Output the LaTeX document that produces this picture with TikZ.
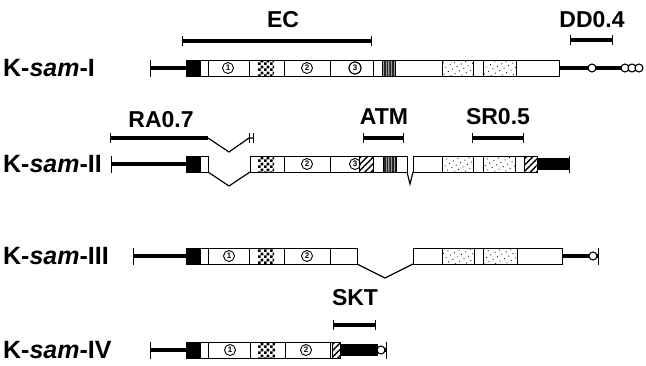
\documentclass[tikz,border=0pt]{standalone}
\usepackage{fontspec}
\setmainfont{Liberation Sans}
\usetikzlibrary{arrows.meta, patterns, patterns.meta}

\tikzdeclarepattern{
  name=checker,
  type=uncolored,
  bounding box={(0pt,0pt) and (6pt,6pt)},
  tile size={(6pt,6pt)},
  code={\fill (0pt,0pt) rectangle (3pt,3pt); \fill (3pt,3pt) rectangle (6pt,6pt);}
}

\begin{document}
\begin{tikzpicture}[
    x=1pt, y=-1pt,
    genename/.style={anchor=west, font=\bfseries\fontsize{25}{27}\selectfont, inner sep=0pt},
    tag/.style={font=\bfseries\fontsize{23}{25}\selectfont, inner sep=0pt},
    box/.style={draw, line width=1pt, fill=white},
    divider/.style={line width=1pt},
    gene/.style={line width=3.4pt},
    splice/.style={line width=1.2pt},
    lt/.style={{Bar[width=17pt,line width=1.3pt]}-},
    rt/.style={-{Bar[width=17pt,line width=1.3pt]}},
    sbar/.style={line width=3.2pt, {Bar[width=10pt,line width=1.2pt]}-{Bar[width=10pt,line width=1.2pt]}},
    lbar/.style={line width=3.2pt, {Bar[width=10pt,line width=1.2pt]}-},
    num/.style={circle, draw, line width=0.9pt, inner sep=0pt, minimum size=11pt, font=\bfseries\fontsize{8}{8}\selectfont},
    knob/.style={circle, draw, line width=1.1pt, fill=white, inner sep=0pt, minimum size=8pt},
    hatch/.style={pattern={Lines[angle=45,distance=4.5pt,line width=1.4pt]}},
    greybox/.style={preaction={fill=black!40}, pattern={Lines[angle=90,distance=1.6pt,line width=0.6pt]}, pattern color=black!85},
    speckled/.style={pattern={Dots[angle=30,distance=5pt,radius=0.6pt]}}
  ]
  \useasboundingbox (0,0) rectangle (646,365);

  % K-sam-I
  \node[tag] (ec) at (283,20) {EC};
  \draw[sbar] (182,41) -- (372,41);
  \node[tag] (dd) at (592,20) {DD0.4};
  \draw[sbar] (570,40) -- (613,40);
  \node[genename] (lblI) at (3,68) {K-\textit{sam}-I};
  \draw[gene, lt] (150,68) -- (187,68);
  \draw[box] (186,60) rectangle (559,76);
  \fill (186,60) rectangle (201,76);
  \foreach \d in {208,249,284,330,373}
    \draw[divider] (\d,60) -- (\d,76);
  \fill[pattern=checker] (258,60) rectangle (274,76);
  \draw[divider, greybox] (382,60) rectangle (395,76);
  \draw[divider, speckled] (442,60) rectangle (473,76) (483,60) rectangle (516,76);
  \node[num] (oneI) at (228,68) {1};
  \node[num] (twoI) at (307,68) {2};
  \node[num, minimum size=12pt, line width=1.2pt] (threeI) at (355,68) {3};
  \draw[gene] (559,68) -- (622,68);
  \node[knob] (kI) at (592,68) {};
  \foreach \c in {625,632,639}
    \node[knob] at (\c,68) {};

  % K-sam-II
  \node[tag] (ra) at (161,120) {RA0.7};
  \draw[lbar] (110,138) -- (208,138);
  \draw[splice] (208,138) -- (229,152) -- (249,138) -- (253,138);
  \draw[divider] (249,133) -- (249,143) (253,133) -- (253,143);
  \node[tag] (atm) at (384,117) {ATM};
  \draw[sbar] (363,138) -- (404,138);
  \node[tag] (sr) at (498,117) {SR0.5};
  \draw[sbar] (472,138) -- (524,138);
  \node[genename] (lblII) at (3,164) {K-\textit{sam}-II};
  \draw[gene, lt] (111,164) -- (187,164);
  \draw[box] (186,156) rectangle (208,172);
  \fill (186,156) rectangle (201,172);
  \draw[splice] (208,172) -- (229,186) -- (250,172);
  \draw[box] (250,156) rectangle (407,172);
  \fill[pattern=checker] (258,156) rectangle (274,172);
  \foreach \d in {284,330}
    \draw[divider] (\d,156) -- (\d,172);
  \node[num] (twoII) at (307,164) {2};
  \node[num] (threeII) at (355,164) {3};
  \draw[divider, hatch] (359,156) rectangle (373,172);
  \draw[divider, greybox] (383,156) rectangle (396,172);
  \draw[splice] (407,172) -- (410,184) -- (413,172);
  \draw[box] (413,156) rectangle (537,172);
  \draw[divider, speckled] (442,156) rectangle (473,172) (483,156) rectangle (515,172);
  \draw[divider, hatch] (524,156) rectangle (537,172);
  \draw[line width=12pt, rt] (537,164) -- (570,164);

  % K-sam-III
  \node[genename] (lblIII) at (3,256) {K-\textit{sam}-III};
  \draw[gene, lt] (133,256) -- (187,256);
  \draw[box] (186,248) rectangle (357,264);
  \fill (186,248) rectangle (201,264);
  \foreach \d in {208,249,284,330}
    \draw[divider] (\d,248) -- (\d,264);
  \fill[pattern=checker] (258,248) rectangle (274,264);
  \node[num] (oneIII) at (229,256) {1};
  \node[num] (twoIII) at (307,256) {2};
  \draw[splice] (357,264) -- (385,278) -- (413,264);
  \draw[box] (413,248) rectangle (562,264);
  \draw[divider, speckled] (442,248) rectangle (474,264) (483,248) rectangle (517,264);
  \draw[gene, rt] (562,256) -- (599,256);
  \node[knob] (kIII) at (593,256) {};

  % K-sam-IV
  \node[tag] (skt) at (355,298) {SKT};
  \draw[sbar] (333,325) -- (376,325);
  \node[genename] (lblIV) at (3,350) {K-\textit{sam}-IV};
  \draw[gene, lt] (150,350) -- (187,350);
  \draw[box] (186,342) rectangle (340,358);
  \fill (186,342) rectangle (201,358);
  \foreach \d in {208,250,285,330}
    \draw[divider] (\d,342) -- (\d,358);
  \fill[pattern=checker] (258,342) rectangle (275,358);
  \node[num] (oneIV) at (230,350) {1};
  \node[num] (twoIV) at (306,350) {2};
  \draw[divider, hatch] (332,342) rectangle (340,358);
  \draw[line width=12pt] (340,350) -- (378,350);
  \draw[gene, rt] (377,350) -- (387,350);
  \node[knob] (kIV) at (381,350) {};
\end{tikzpicture}
\end{document}
